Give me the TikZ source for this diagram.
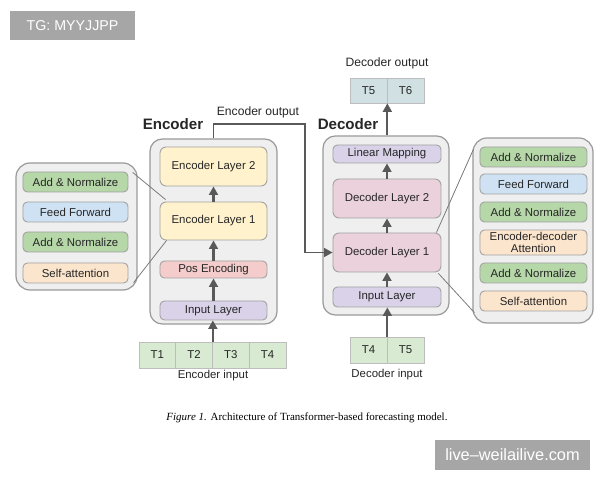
\documentclass[tikz,border=0pt]{standalone}
\usepackage{fontspec}
\setmainfont{Liberation Sans}
\newfontfamily\capfont{Liberation Serif}
\usetikzlibrary{arrows.meta,calc}
\definecolor{outerfill}{HTML}{EFEFEF}
\definecolor{outerdraw}{HTML}{9A9A9A}
\definecolor{boxdraw}{HTML}{A0A0A0}
\definecolor{yel}{HTML}{FFF2CC}
\definecolor{red3}{HTML}{F4CCCC}
\definecolor{pur3}{HTML}{D9D2E9}
\definecolor{mag3}{HTML}{EAD1DC}
\definecolor{grn2}{HTML}{B6D7A8}
\definecolor{blu3}{HTML}{CFE2F3}
\definecolor{org3}{HTML}{FCE5CD}
\definecolor{grn3}{HTML}{D9EAD3}
\definecolor{cyn3}{HTML}{D0E0E3}
\definecolor{arrc}{HTML}{595959}
\definecolor{txt}{HTML}{262626}
\definecolor{wm}{HTML}{A6A6A6}
\newcommand\fsA{\fontsize{6.5}{7.2}\selectfont}
\newcommand\pbox[7]{%
  \node[#6, minimum width={((#4)-(#2))*0.02cm}, minimum height={((#5)-(#3))*0.02cm}]
    (#1) at ({((#2)+(#4))/2},{((#3)+(#5))/2}) {#7};}
\tikzset{
  outerbox/.style={draw=outerdraw, fill=outerfill, line width=0.7pt, rounded corners=7pt, inner sep=0pt},
  blk/.style={draw=boxdraw, line width=0.5pt, rounded corners=2.5pt, inner sep=0pt, font=\fsA, text=txt, align=center},
  layer/.style={blk, rounded corners=3.5pt},
  tok/.style={draw=boxdraw!70, line width=0.4pt, inner sep=0pt, font=\fsA, text=txt},
  arr/.style={-{Triangle[length=4.8pt,width=5pt]}, line width=1.2pt, draw=arrc},
  thin/.style={draw=arrc!80, line width=0.45pt},
  lbl/.style={font=\fontsize{6.9}{8}\selectfont, text=txt, inner sep=0pt},
  title/.style={font=\fontsize{8.6}{10}\selectfont\bfseries, text=txt, inner sep=0pt},
  wmark/.style={fill=wm, text=white, inner sep=0pt}
}
\begin{document}
\begin{tikzpicture}[x=0.02cm,y=-0.02cm]
\useasboundingbox[fill=white] (0,0) rectangle (600,480);

% watermarks
\pbox{wm1}{10}{11}{135}{40}{wmark, font=\fontsize{8.1}{9}\selectfont}{TG: MYYJJPP}
\pbox{wm2}{435}{440}{590}{470}{wmark, font=\fontsize{9.3}{10}\selectfont}{live–weilailive.com}

% ---------------- Encoder ----------------
\pbox{encbox}{150}{139}{277}{324}{outerbox}{}
\node[title] (enct) at (173,124) {Encoder};
\pbox{el2}{160}{147}{267}{186}{layer, fill=yel}{Encoder Layer 2}
\pbox{el1}{160}{202}{267}{240}{layer, fill=yel}{Encoder Layer 1}
\pbox{pos}{160}{261}{267}{278}{blk, fill=red3}{Pos Encoding}
\pbox{einl}{160}{301}{267}{320}{blk, fill=pur3}{Input Layer}

\pbox{t1}{139}{342}{175.75}{368}{tok, fill=grn3}{T1}
\pbox{t2}{175.75}{342}{212.5}{368}{tok, fill=grn3}{T2}
\pbox{t3}{212.5}{342}{249.25}{368}{tok, fill=grn3}{T3}
\pbox{t4}{249.25}{342}{286}{368}{tok, fill=grn3}{T4}
\node[lbl, font=\fsA] (encin) at (213,376) {Encoder input};

% left expansion
\pbox{lbox}{16}{163}{137}{290}{outerbox, rounded corners=8pt}{}
\pbox{la1}{23}{172}{128}{192}{blk, fill=grn2}{Add \& Normalize}
\pbox{la2}{23}{202}{128}{222}{blk, fill=blu3}{Feed Forward}
\pbox{la3}{23}{232}{128}{252}{blk, fill=grn2}{Add \& Normalize}
\pbox{la4}{23}{263}{128}{283}{blk, fill=org3}{Self-attention}

% ---------------- Decoder ----------------
\pbox{decbox}{323}{136}{449}{315}{outerbox}{}
\node[title] (dect) at (348,124) {Decoder};
\pbox{lin}{333}{145}{441}{163}{blk, fill=pur3}{Linear Mapping}
\pbox{dl2}{333}{179}{441}{218}{layer, fill=mag3}{Decoder Layer 2}
\pbox{dl1}{333}{233}{441}{272}{layer, fill=mag3}{Decoder Layer 1}
\pbox{dinl}{333}{287}{441}{307}{blk, fill=pur3}{Input Layer}

\pbox{o5}{350}{78}{387}{103}{tok, fill=cyn3}{T5}
\pbox{o6}{387}{78}{424}{103}{tok, fill=cyn3}{T6}
\node[lbl] (decout) at (387,63) {Decoder output};

\pbox{d4}{350}{337}{387}{363}{tok, fill=grn3}{T4}
\pbox{d5}{387}{337}{424}{363}{tok, fill=grn3}{T5}
\node[lbl, font=\fsA] (decin) at (387,375) {Decoder input};

% right expansion
\pbox{rbox}{473}{138}{593}{323}{outerbox, rounded corners=8pt}{}
\pbox{ra1}{480}{147}{587}{167}{blk, fill=grn2}{Add \& Normalize}
\pbox{ra2}{480}{174}{587}{194}{blk, fill=blu3}{Feed Forward}
\pbox{ra3}{480}{202}{587}{222}{blk, fill=grn2}{Add \& Normalize}
\pbox{ra4}{480}{230}{587}{255}{blk, fill=org3}{Encoder-decoder\\[-0.5pt]Attention}
\pbox{ra5}{480}{263}{587}{283}{blk, fill=grn2}{Add \& Normalize}
\pbox{ra6}{480}{291}{587}{311}{blk, fill=org3}{Self-attention}

% ---------------- connectors ----------------
\draw[arr] (t2.north east) -- (t2.north east |- einl.south);
\draw[arr] (einl.north) -- (pos.south);
\draw[arr] (pos.north) -- (el1.south);
\draw[arr] (el1.north) -- (el2.south);

\draw[arr] (d4.north east) -- (d4.north east |- dinl.south);
\draw[arr] (dinl.north) -- (dl1.south);
\draw[arr] (dl1.north) -- (dl2.south);
\draw[arr] (dl2.north) -- (lin.south);
\draw[arr] (o5.south east |- decbox.north) -- (o5.south east);

\coordinate (eoc) at (305,124);
\node[lbl] (encout) at (258,112) {Encoder output};
\draw[arr, line width=1pt] (encbox.north) |- (eoc) |- (dl1.west);

\draw[thin] ($(lbox.north east)+(-5,10)$) -- ($(el1.north west)+(6,-2)$);
\draw[thin] ($(lbox.south east)+(-4,-8)$) -- ($(el1.south west)+(7,0)$);
\draw[thin] ($(dl1.north east)+(-5,0)$) -- ($(rbox.north west)+(1,12)$);
\draw[thin] ($(dl1.south east)+(-3,1)$) -- ($(rbox.south west)+(2,-11)$);

% caption
\node[inner sep=0pt, text=black, font=\capfont\fontsize{6.25}{7}\selectfont] (cap) at (307,418)
  {\textit{Figure 1.} Architecture of Transformer-based forecasting model.};
\end{tikzpicture}
\end{document}
